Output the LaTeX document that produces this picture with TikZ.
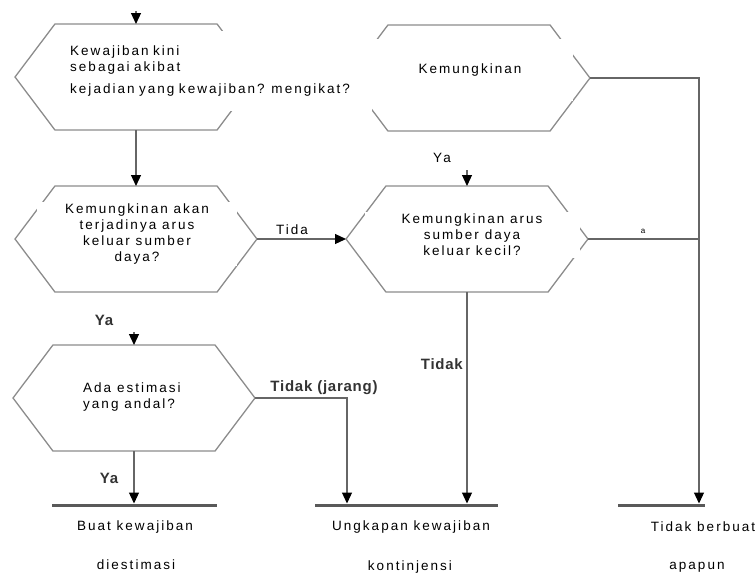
\documentclass[tikz,border=0pt]{standalone}
\usepackage{fontspec}
\setmainfont{Liberation Sans}
\newfontfamily\ocrfont[LetterSpace=15]{Liberation Sans}
\newfontfamily\scanfont[LetterSpace=5]{Liberation Sans}
\usetikzlibrary{shapes.symbols,arrows.meta,positioning}
\tikzstyle{hexa} = [shape=signal,
                    signal to=east and west,
                    signal pointer angle=106,
                    minimum width=242pt,
                    minimum height=106pt,
                    inner sep=0pt,
                    outer sep=0pt,
                    draw=black!45,
                    line width=1.3pt]
\tikzstyle{ocr} = [font=\ocrfont\fontsize{13.5}{16}\selectfont,
                   text=black,
                   inner sep=2pt]
\tikzstyle{mask} = [fill=white]
\tikzstyle{scan} = [font=\scanfont\bfseries\fontsize{15}{18}\selectfont,
                    text=black!80,
                    inner sep=1pt]
\tikzstyle{conn} = [draw=black!60,
                    line width=1.2pt,
                    -{Triangle[width=10pt,length=11pt,color=black]}]
\tikzstyle{joinline} = [draw=black!60, line width=1.2pt]
\tikzstyle{bar} = [rectangle,
                   fill=black!65,
                   minimum height=3pt,
                   inner sep=0pt,
                   outer sep=0pt]
\begin{document}
\begin{tikzpicture}[x=1pt, y=-1pt]
  \useasboundingbox (0,0) rectangle (756,576);
  % keputusan
  \node[hexa] (kini) at (136,77) {};
  \node[hexa] (mungkin) at (469,78) {};
  \node[hexa] (arus) at (136,239) {};
  \node[hexa] (kecil) at (467,239) {};
  \node[hexa] (andal) at (134,398) {};
  % teks di atas heksagon
  \node[ocr, mask, align=left, anchor=north west, text width=300pt,
        minimum height=80pt] (kinitxt) at (68,31)
       {Kewajiban kini\\sebagai akibat\\[6pt]kejadian yang kewajiban? mengikat?};
  \node[ocr, mask, minimum width=205pt, minimum height=62pt] (mungkintxt) at (470,70) {Kemungkinan};
  \node[ocr, mask, align=center, minimum width=200pt] (arustxt) at (137,234)
       {Kemungkinan akan\\terjadinya arus\\keluar sumber\\daya?};
  \node[ocr, mask, align=center, minimum width=215pt] (keciltxt) at (472,235)
       {Kemungkinan arus\\sumber daya\\keluar kecil?};
  \node[ocr, align=left, anchor=west] (andaltxt) at (81,397)
       {Ada estimasi\\yang andal?};
  % hasil
  \node[bar, minimum width=165pt] (buat) at (134.5,505) {};
  \node[bar, minimum width=183pt] (ungkap) at (406.5,505) {};
  \node[bar, minimum width=87pt] (diam) at (661.5,505) {};
  % panah
  \coordinate (topin) at (136,11);
  \draw[conn] (topin) -- (kini.north);
  \draw[conn] (kini.south) -- (arus.north);
  \coordinate (yain) at (467,170);
  \draw[conn] (yain) -- (kecil.north);
  \coordinate (yain2) at (134,332);
  \draw[conn] (yain2) -- (andal.north);
  \draw[conn] (arus.east) -- (kecil.west);
  \draw[conn] (andal.south) -- (andal.south |- buat.north);
  \coordinate (jarang) at (347,398);
  \draw[conn] (andal.east) -- (jarang) -- (jarang |- ungkap.north);
  \draw[conn] (kecil.south) -- (kecil.south |- ungkap.north);
  \coordinate (kanan) at (699,78);
  \draw[conn] (mungkin.east) -- (kanan) -- (kanan |- diam.north);
  \draw[joinline] (kecil.east) -- (kecil.east -| kanan);
  % label
  \node[ocr] (ya1) at (442,158) {Ya};
  \node[scan] (ya2) at (104,320) {Ya};
  \node[scan] (ya3) at (109,478) {Ya};
  \node[ocr] (tida) at (292,230) {Tida};
  \node[scan] (tjarang) at (324,388) {Tidak (jarang)};
  \node[scan, anchor=east] (tidak) at (464,364) {Tidak};
  \node[ocr, font=\ocrfont\fontsize{8}{9}\selectfont] (frag) at (643,231) {a};
  % keterangan hasil
  \node[ocr] (buat1) at (135,527) {Buat kewajiban};
  \node[ocr] (buat2) at (136,565) {diestimasi};
  \node[ocr] (ungkap1) at (411,527) {Ungkapan kewajiban};
  \node[ocr] (ungkap2) at (410,567) {kontinjensi};
  \node[ocr] (diam1) at (703,527) {Tidak berbuat};
  \node[ocr] (diam2) at (697,567) {apapun};
\end{tikzpicture}
\end{document}
